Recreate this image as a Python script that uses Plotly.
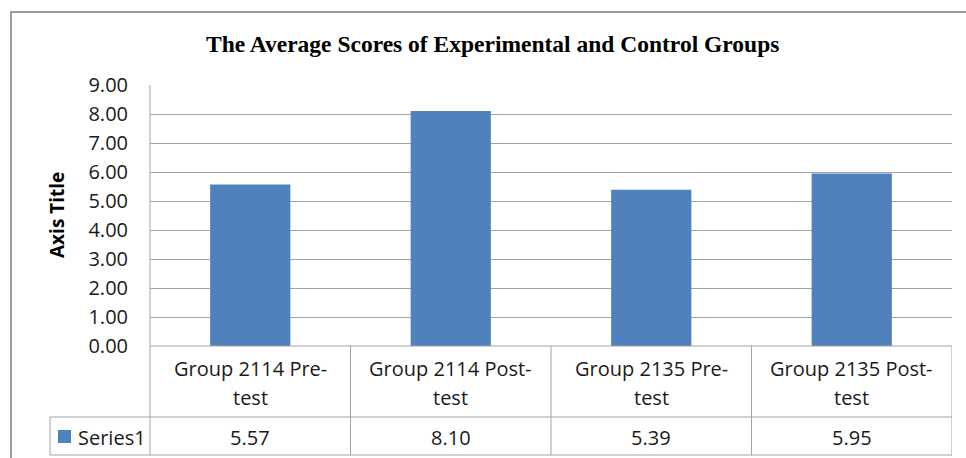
import plotly.graph_objects as go

# ---- data ----
categories = ["Group 2114 Pre-test", "Group 2114 Post-test", "Group 2135 Pre-test", "Group 2135 Post-test"]
values = [5.57, 8.10, 5.39, 5.95]
series_name = "Series1"
title_text = "The Average Scores of Experimental and Control Groups"
y_title = "Axis Title"
y_ticks = [0, 1, 2, 3, 4, 5, 6, 7, 8, 9]

# ---- layout geometry (pixels) ----
W, H = 966, 458
PL, PR, PT, PB = 150, 952, 85, 346
pw, ph = PR - PL, PB - PT

def px(x):
    return (x - PL) / pw

def py(y):
    return (PB - y) / ph

BAR = "#4F81BD"
GRID = "#A3A3A3"
FONT = "Open Sans"
TXT = "#1a1a1a"

fig = go.Figure()
fig.add_trace(go.Bar(x=list(range(len(categories))), y=values, width=0.4,
                     marker=dict(color=BAR, line=dict(width=0)), name=series_name,
                     showlegend=False, hoverinfo="skip"))

shapes = []
ann = []
line_style = dict(color=GRID, width=1)

# outer chart border (extends beyond the visible frame right and bottom)
shapes.append(dict(type="rect", xref="paper", yref="paper", x0=px(11), x1=px(990), y0=py(12), y1=py(480),
                   line=dict(color="#9C9C9C", width=2), layer="below"))

# table horizontal lines
shapes.append(dict(type="line", xref="paper", yref="paper", x0=px(PL), x1=px(PR), y0=py(PB), y1=py(PB), line=line_style))
shapes.append(dict(type="line", xref="paper", yref="paper", x0=px(50), x1=px(PR), y0=py(417), y1=py(417), line=line_style))
shapes.append(dict(type="line", xref="paper", yref="paper", x0=px(50), x1=px(PR), y0=py(455), y1=py(455), line=line_style))
shapes.append(dict(type="line", xref="paper", yref="paper", x0=px(50), x1=px(50), y0=py(417), y1=py(455), line=line_style))
# left axis line through table
shapes.append(dict(type="line", xref="paper", yref="paper", x0=0, x1=0, y0=py(PT), y1=py(455), line=line_style))
# category boundaries
for i in range(len(categories)):
    b = i + 0.5
    shapes.append(dict(type="line", xref="x", yref="paper", x0=b, x1=b, y0=py(PB), y1=py(455), line=line_style))

# category labels (wrapped after hyphen) and values
for i, (c, v) in enumerate(zip(categories, values)):
    head, tail = c.split("-", 1)
    ann.append(dict(x=i, y=py(368), xref="x", yref="paper", text=head + "-", showarrow=False,
                    font=dict(family=FONT, size=20, color=TXT), xanchor="center", yanchor="middle"))
    ann.append(dict(x=i, y=py(397), xref="x", yref="paper", text=tail, showarrow=False,
                    font=dict(family=FONT, size=20, color=TXT), xanchor="center", yanchor="middle"))
    ann.append(dict(x=i, y=py(437), xref="x", yref="paper", text=f"{v:.2f}", showarrow=False,
                    font=dict(family=FONT, size=20, color=TXT), xanchor="center", yanchor="middle"))

# legend key + series name
shapes.append(dict(type="rect", xref="paper", yref="paper", x0=px(58), x1=px(71), y0=py(430), y1=py(443),
                   fillcolor=BAR, line=dict(width=0)))
ann.append(dict(x=px(76), y=py(437), xref="paper", yref="paper", text=series_name, showarrow=False,
                font=dict(family=FONT, size=20, color=TXT), xanchor="left", yanchor="middle"))

# axis title
ann.append(dict(x=px(57), y=py(215), xref="paper", yref="paper", text=f"<b>{y_title}</b>", showarrow=False,
                textangle=-90, font=dict(family=FONT, size=19, color="#000"), xanchor="center", yanchor="middle"))

# chart title
ann.append(dict(x=px(492), y=py(44), xref="paper", yref="paper", text=f"<b>{title_text}</b>", showarrow=False,
                font=dict(family="Liberation Serif", size=23.5, color="#000"), xanchor="center", yanchor="middle"))

fig.update_layout(
    width=W, height=H,
    margin=dict(l=PL, r=W - PR, t=PT, b=H - PB, pad=0),
    paper_bgcolor="white", plot_bgcolor="white",
    shapes=shapes, annotations=ann,
    xaxis=dict(range=[-0.5, len(categories) - 0.5], showticklabels=False, showgrid=False,
               zeroline=False, showline=False, ticks="", fixedrange=True),
    yaxis=dict(range=[0, 9], tickvals=y_ticks, tickformat=".2f", showgrid=True, gridcolor=GRID, gridwidth=1,
               zeroline=False, showline=False, ticks="outside", ticklen=0, ticklabelstandoff=17,
               tickfont=dict(family=FONT, size=20, color=TXT), fixedrange=True),
)

fig.write_html("out.html", config={"displayModeBar": False},
               post_script="document.body.style.margin='0';document.body.style.overflow='hidden';")
